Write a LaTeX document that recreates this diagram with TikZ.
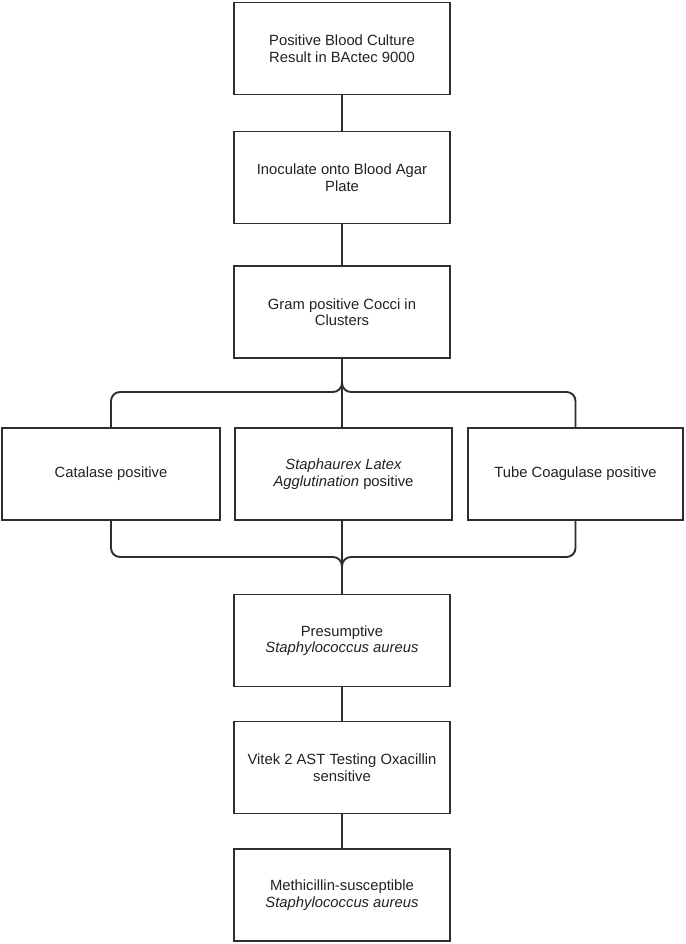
\documentclass[tikz,border=0pt]{standalone}
\usepackage{fontspec}
\setmainfont{Liberation Sans}
\usetikzlibrary{positioning}
\definecolor{linec}{HTML}{2E2E2E}
\definecolor{textc}{HTML}{222222}
\tikzset{
  box/.style={draw=linec, line width=1.9pt, fill=white, minimum width=216pt, minimum height=92pt,
    align=center, text=textc, inner sep=0pt, font=\fontsize{14.8}{16.5}\selectfont},
  conn/.style={draw=linec, line width=1.9pt, rounded corners=9pt}
}
\begin{document}
\begin{tikzpicture}[x=1pt,y=-1pt]
\useasboundingbox (0,0) rectangle (685,944);
\node[box] (b1) at (342,48.5) {Positive Blood Culture\\Result in BActec 9000};
\node[box] (b2) at (342,177.5) {Inoculate onto Blood Agar\\Plate};
\node[box] (b3) at (342,312) {Gram positive Cocci in\\Clusters};
\node[box, minimum width=218pt] (c1) at (111,474) {Catalase positive};
\node[box, minimum width=217pt] (c2) at (343.5,474) {\itshape Staphaurex Latex\\\textit{Agglutination} positive};
\node[box, minimum width=215pt] (c3) at (575.5,474) {Tube Coagulase positive};
\node[box] (p) at (342,640.5) {Presumptive\\\textit{Staphylococcus aureus}};
\node[box] (v) at (342,767.5) {Vitek 2 AST Testing Oxacillin\\sensitive};
\node[box] (m) at (342,895) {Methicillin-susceptible\\\textit{Staphylococcus aureus}};
\coordinate (top) at (342,392);
\coordinate (bot) at (342,557);
\draw[conn] (b1) -- (b2);
\draw[conn] (b2) -- (b3);
\draw[conn] (b3.south) -- (top) -| (c1.north);
\draw[conn] (b3.south) -- (top) -| (c3.north);
\draw[conn] (b3.south) -- (b3.south |- c2.north);
\draw[conn] (c1.south) |- (bot) -- (p.north);
\draw[conn] (c3.south) |- (bot) -- (p.north);
\draw[conn] (c2.south -| p.north) -- (p.north);
\draw[conn] (p) -- (v);
\draw[conn] (v) -- (m);
\end{tikzpicture}
\end{document}
